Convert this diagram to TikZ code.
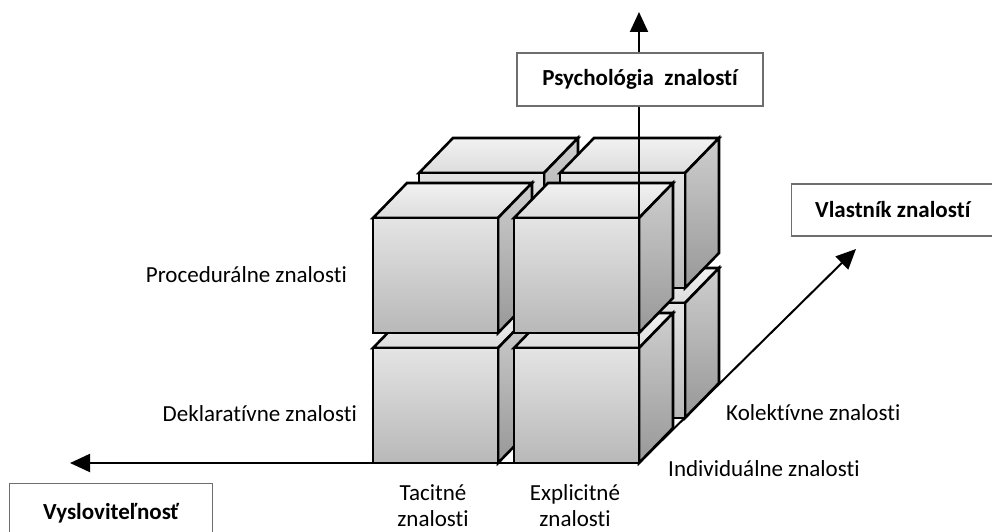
\documentclass[tikz,border=0pt]{standalone}
\usepackage{fontspec}
\setmainfont{Carlito}[Ligatures=NoCommon]
\usetikzlibrary{arrows.meta}

\definecolor{frontTop}{RGB}{228,228,228}
\definecolor{frontBot}{RGB}{184,184,184}
\definecolor{lidTop}{RGB}{242,242,242}
\definecolor{lidBot}{RGB}{220,220,220}
\definecolor{sideTop}{RGB}{206,206,206}
\definecolor{sideBot}{RGB}{152,152,152}
\definecolor{boxline}{RGB}{110,110,110}

\tikzset{
  edge/.style={draw=black, line width=2.6pt, line join=miter},
  axis/.style={draw=black, line width=2pt, -{Triangle[length=20pt,width=18pt]}},
  labeltext/.style={font=\fontsize{23}{26}\selectfont, inner sep=0pt},
  boldtext/.style={font=\fontsize{23}{27}\selectfont\bfseries, inner sep=0pt},
  titlebox/.style={draw=boxline, line width=1.2pt, fill=white,
    font=\fontsize{23}{27}\selectfont\bfseries, inner sep=0pt},
}

% one cube: front face with top-left corner at (#1,#2)
\newcommand\cubeat[2]{%
  \path[edge, top color=lidTop, bottom color=lidBot]
    (#1,#2) -- ++(34,-35) -- ++(125,0) -- ++(-34,35) -- cycle;
  \path[edge, top color=sideTop, bottom color=sideBot]
    (#1+125,#2) -- ++(34,-35) -- ++(0,115) -- ++(-34,35) -- cycle;
  \path[edge, top color=frontTop, bottom color=frontBot]
    (#1,#2) rectangle ++(125,115);
}

\begin{document}
\begin{tikzpicture}[x=1pt,y=-1pt]
\useasboundingbox (0,0) rectangle (992,532);
\clip (0,0) rectangle (992,532);

% back layer
\cubeat{419}{303}
\cubeat{560}{303}
\cubeat{419}{173}
\cubeat{560}{173}
% front layer
\cubeat{373}{348}
\cubeat{514}{348}
\cubeat{373}{218}
\cubeat{514}{218}

% axes from the common corner
\coordinate (O) at (639,463);
\coordinate (up) at (639,12);
\coordinate (left) at (70,463);
\coordinate (deep) at (856,249);
\draw[axis] (O) -- (up);
\draw[axis] (O) -- (left);
\draw[axis] (O) -- (deep);

% axis titles
\node[titlebox, minimum width=246pt, minimum height=53pt] (psy) at (640,79.5) {Psychológia\ \ znalostí};
\node[titlebox, minimum width=220pt, minimum height=52pt, anchor=west] (own) at (791,210) {};
\node[boldtext, anchor=west] (owntext) at (815,210) {Vlastník znalostí};
\node[titlebox, minimum width=203pt, minimum height=70pt, anchor=north west] (say) at (9,483) {};
\node[boldtext] (saytext) at (111,513) {Vysloviteľnosť};

% category labels
\node[labeltext, anchor=east] (proc) at (347,275) {Procedurálne znalosti};
\node[labeltext, anchor=east] (dekl) at (357,414) {Deklaratívne znalosti};
\node[labeltext, anchor=west] (kol) at (726,413) {Kolektívne znalosti};
\node[labeltext, anchor=west] (ind) at (668,469) {Individuálne znalosti};
\node[labeltext, align=center] (tac) at (433,506) {Tacitné\\znalosti};
\node[labeltext, align=center] (exp) at (575,506) {Explicitné\\znalosti};
\end{tikzpicture}
\end{document}
